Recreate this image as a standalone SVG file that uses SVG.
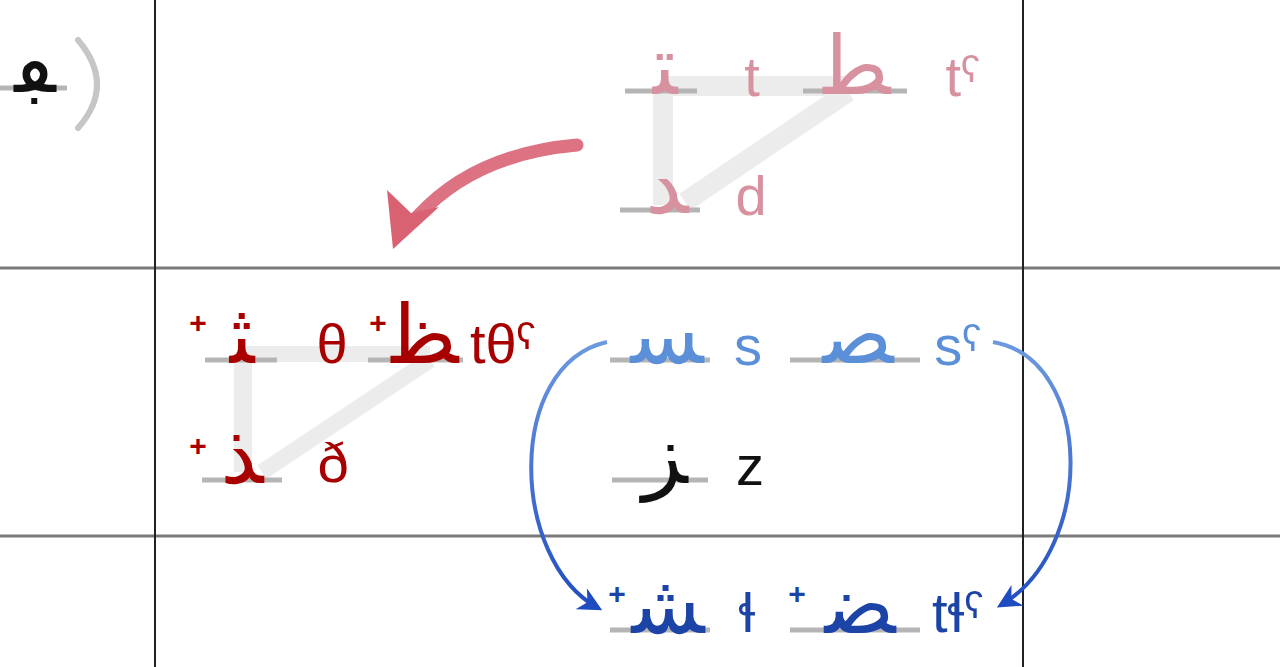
<svg xmlns="http://www.w3.org/2000/svg" width="1280" height="667" viewBox="0 0 1280 667">
<defs>
<style>
.ar{font-family:"DejaVu Sans",sans-serif;font-size:82px;text-anchor:middle}
.la{font-family:"Liberation Sans","DejaVu Sans",sans-serif;font-size:56px;text-anchor:middle}
.pl{font-family:"Liberation Sans",sans-serif;font-size:30px;font-weight:bold;text-anchor:middle}
.bar{stroke:#b5b5b5;stroke-width:5;fill:none}
.band{stroke:#ececec;stroke-width:20;fill:none;stroke-linecap:butt}
.grid-v{stroke:#222;stroke-width:2}
.grid-h{stroke:#7a7a7a;stroke-width:3}
.pink{fill:#d7919f}
.red{fill:#a80000}
.lblue{fill:#5b8fd8}
.dblue{fill:#1c43a6}
.blk{fill:#111}
</style>
<linearGradient id="gL" gradientUnits="userSpaceOnUse" x1="0" y1="340" x2="0" y2="612">
<stop offset="0" stop-color="#6e9ae0"/><stop offset="1" stop-color="#1f4cc0"/>
</linearGradient>
<marker id="ah" viewBox="0 0 10 10" refX="8" refY="5" markerWidth="6" markerHeight="6" orient="auto" markerUnits="strokeWidth">
<path d="M0,0 L10,5 L0,10 L3,5 Z" fill="#1f4cc0"/>
</marker>
</defs>
<rect width="1280" height="667" fill="#fff"/>
<g id="grid">
<line class="grid-h" x1="0" y1="268" x2="1280" y2="268"/>
<line class="grid-h" x1="0" y1="536" x2="1280" y2="536"/>
<line class="grid-v" x1="155" y1="0" x2="155" y2="667"/>
<line class="grid-v" x1="1023" y1="0" x2="1023" y2="667"/>
</g>
<g id="fragment-left">
<line class="bar" x1="0" y1="88" x2="67" y2="88"/>
<text class="ar blk" x="35" y="92">&#x200D;ڢ&#x200D;</text>
<path d="M78,40 Q116,85 78,128" stroke="#c6c6c6" stroke-width="6" fill="none" stroke-linecap="round"/>
</g>
<g id="connectors">
<path class="band" d="M663,86 H845"/>
<path class="band" d="M663,86 V205"/>
<path class="band" d="M848,92 L685,202"/>
<path class="band" d="M243,354 H430" style="stroke-width:16"/>
<path class="band" d="M243,354 V472" style="stroke-width:18"/>
<path class="band" d="M430,360 L262,472" style="stroke-width:16"/>
<path d="M577,145 C520,150 462,168 418,216" stroke="#dc7282" stroke-width="13" fill="none" stroke-linecap="round"/>
<path d="M393,249 L387,190 L411,213 L439,207 Z" fill="#d96272"/>
<path d="M607,342 C505,365 510,560 598,608" stroke="url(#gL)" stroke-width="4" fill="none" marker-end="url(#ah)"/>
<path d="M993,342 C1095,360 1095,550 1001,605" stroke="url(#gL)" stroke-width="4" fill="none" marker-end="url(#ah)"/>
</g>
<g id="node-t">
<line class="bar" x1="625" y1="91" x2="697" y2="91"/>
<text class="ar pink" x="665" y="94">&#x200D;ت&#x200D;</text>
<text class="la pink" x="752" y="96">t</text>
</g>
<g id="node-tq">
<line class="bar" x1="803" y1="91" x2="907" y2="91"/>
<text class="ar pink" x="857" y="94">&#x200D;ط&#x200D;</text>
<text class="la pink" x="963" y="96">tˤ</text>
</g>
<g id="node-d">
<line class="bar" x1="620" y1="210" x2="700" y2="210"/>
<text class="ar pink" x="667" y="213">&#x200D;د&#x200D;</text>
<text class="la pink" x="751" y="215">d</text>
</g>
<g id="node-th">
<text class="pl red" x="198" y="333">+</text>
<line class="bar" x1="205" y1="360" x2="277" y2="360"/>
<text class="ar red" x="242" y="363">&#x200D;ث&#x200D;</text>
<text class="la red" x="332" y="363">θ</text>
</g>
<g id="node-thq">
<text class="pl red" x="378" y="333">+</text>
<line class="bar" x1="368" y1="360" x2="463" y2="360"/>
<text class="ar red" x="425" y="363">&#x200D;ظ&#x200D;</text>
<text class="la red" x="503" y="363">tθˤ</text>
</g>
<g id="node-dh">
<text class="pl red" x="198" y="456">+</text>
<line class="bar" x1="202" y1="480" x2="282" y2="480"/>
<text class="ar red" x="242" y="483">&#x200D;ذ&#x200D;</text>
<text class="la red" x="333" y="482">ð</text>
</g>
<g id="node-s">
<line class="bar" x1="610" y1="360" x2="710" y2="360"/>
<text class="ar lblue" x="667" y="363">&#x200D;س&#x200D;</text>
<text class="la lblue" x="748" y="365">s</text>
</g>
<g id="node-sq">
<line class="bar" x1="790" y1="360" x2="920" y2="360"/>
<text class="ar lblue" x="858" y="363">&#x200D;ص&#x200D;</text>
<text class="la lblue" x="958" y="365">sˤ</text>
</g>
<g id="node-z">
<line class="bar" x1="612" y1="480" x2="708" y2="480"/>
<text class="ar blk" x="665" y="483">&#x200D;ز&#x200D;</text>
<text class="la blk" x="750" y="485">z</text>
</g>
<g id="node-lh">
<text class="pl dblue" x="617" y="604">+</text>
<line class="bar" x1="610" y1="630" x2="710" y2="630"/>
<text class="ar dblue" x="668" y="633">&#x200D;ش&#x200D;</text>
<text class="la dblue" x="747" y="632">ɬ</text>
</g>
<g id="node-tlhq">
<text class="pl dblue" x="797" y="604">+</text>
<line class="bar" x1="790" y1="630" x2="920" y2="630"/>
<text class="ar dblue" x="860" y="633">&#x200D;ض&#x200D;</text>
<text class="la dblue" x="958" y="632">tɬˤ</text>
</g>
</svg>
